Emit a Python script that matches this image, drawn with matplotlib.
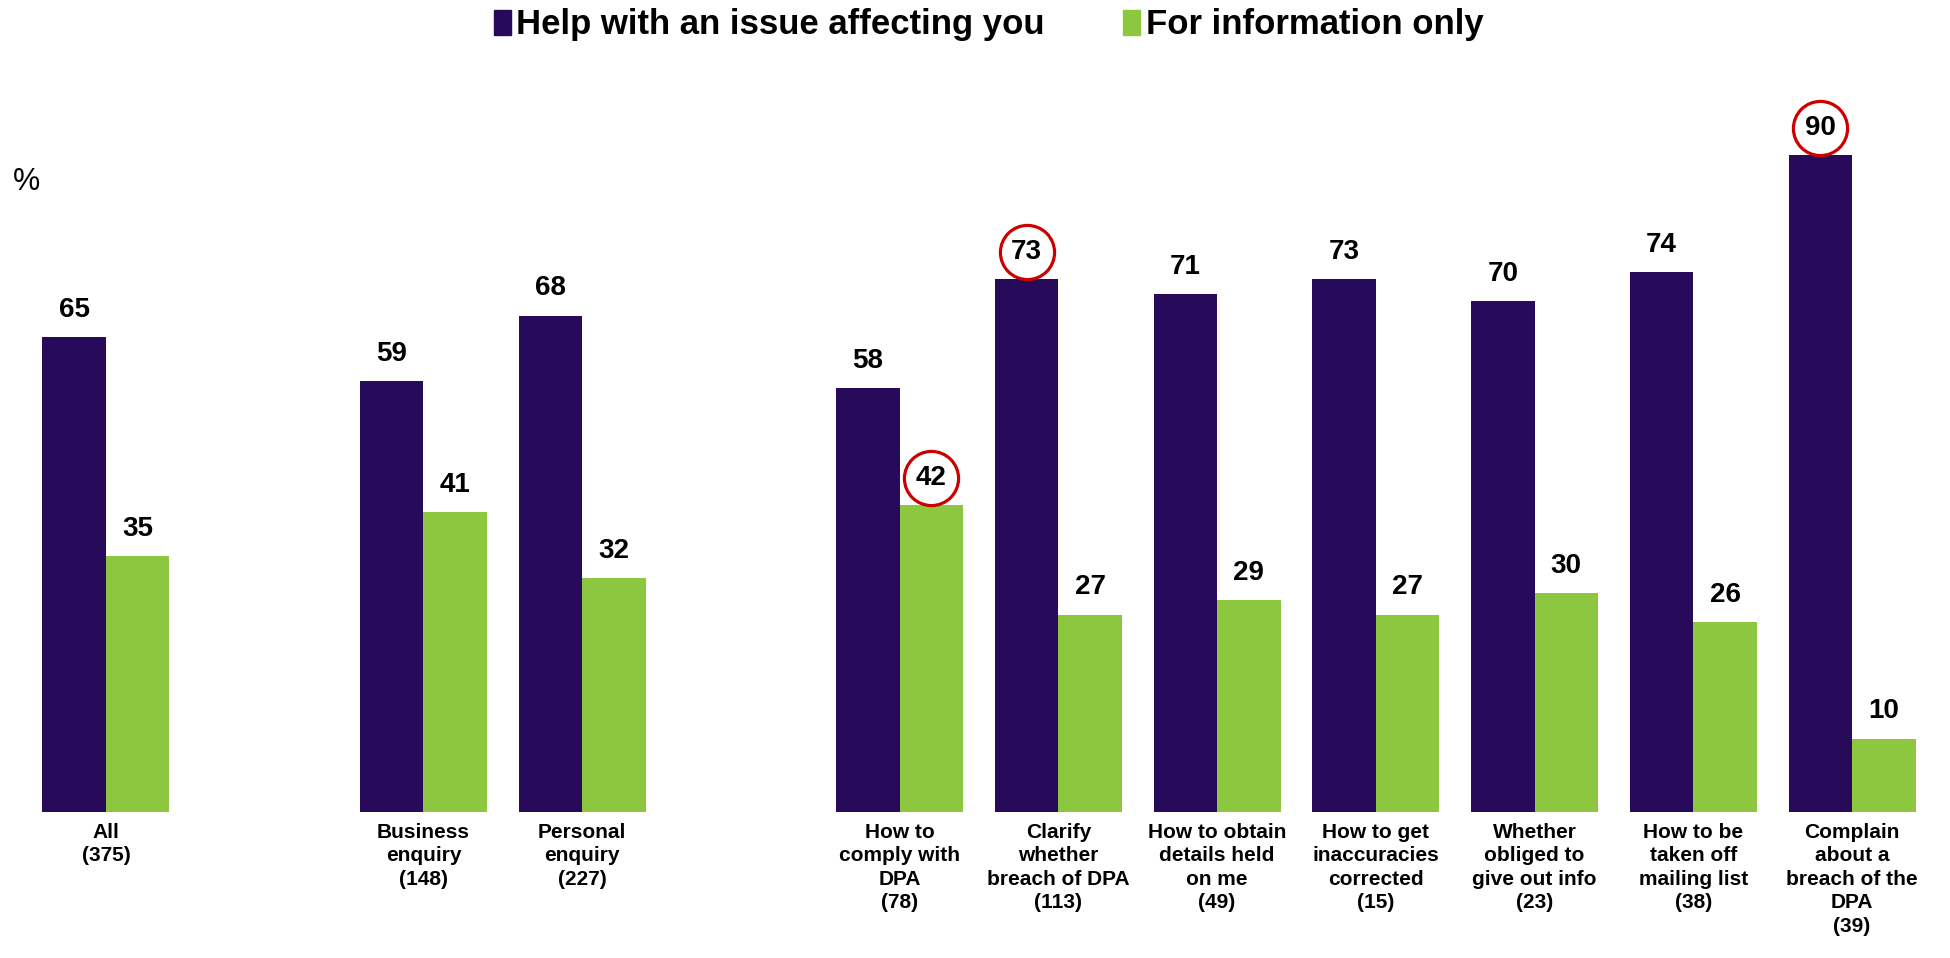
import matplotlib
matplotlib.use("Agg")
import matplotlib.pyplot as plt
from matplotlib.patches import Patch

# Enquiry reasons and share of each purpose (%)
categories = [
    "All\n(375)",
    "Business\nenquiry\n(148)",
    "Personal\nenquiry\n(227)",
    "How to\ncomply with\nDPA\n(78)",
    "Clarify\nwhether\nbreach of DPA\n(113)",
    "How to obtain\ndetails held\non me\n(49)",
    "How to get\ninaccuracies\ncorrected\n(15)",
    "Whether\nobliged to\ngive out info\n(23)",
    "How to be\ntaken off\nmailing list\n(38)",
    "Complain\nabout a\nbreach of the\nDPA\n(39)",
]
groups = [0, 1, 1, 2, 2, 2, 2, 2, 2, 2]
help_vals = [65, 59, 68, 58, 73, 71, 73, 70, 74, 90]
info_vals = [35, 41, 32, 42, 27, 29, 27, 30, 26, 10]
series_names = ["Help with an issue affecting you", "For information only"]

# labels that get a red ring
help_circled = [4, 9]
info_circled = [3]

PURPLE = "#280a5a"
GREEN = "#8dc63f"
RED = "#cc0000"

plt.rcParams["font.family"] = ["Liberation Sans", "DejaVu Sans"]

fig = plt.figure(figsize=(19.5, 9.58), dpi=100)
ax = fig.add_axes([0.01365, 0.1529, 0.9768, 0.7614])

# one empty slot between each group
pos = [i + g for i, g in enumerate(groups)]
w = 0.4

ax.bar([p - w / 2 for p in pos], help_vals, w, color=PURPLE)
ax.bar([p + w / 2 for p in pos], info_vals, w, color=GREEN)

LIFT = 19.5  # points between bar top and label centre
ring_shift = matplotlib.transforms.ScaledTranslation(0, LIFT / 72, fig.dpi_scale_trans)


def label(x, v, circled):
    ax.annotate(str(v), (x, v), xytext=(0, LIFT), textcoords="offset points",
                ha="center", va="center", fontsize=20, fontweight="bold")
    if circled:
        ax.plot([x], [v], marker="o", markersize=39, markerfacecolor="none",
                markeredgecolor=RED, markeredgewidth=2.3, clip_on=False,
                transform=ax.transData + ring_shift)


for i, p in enumerate(pos):
    label(p - w / 2, help_vals[i], i in help_circled)
    label(p + w / 2, info_vals[i], i in info_circled)

ax.set_xlim(-0.5, 11.5)
ax.set_ylim(0, 100)
ax.set_xticks(pos)
ax.set_xticklabels(categories, fontsize=15, fontweight="bold", linespacing=1.3, va="top")
ax.tick_params(axis="x", length=0, pad=8)
ax.set_yticks([])
for s in ax.spines.values():
    s.set_visible(False)

fig.text(0.0065, 0.81, "%", fontsize=22, va="center", ha="left")

handles = [Patch(color=PURPLE), Patch(color=GREEN)]
fig.legend(handles, series_names, loc="center", bbox_to_anchor=(0.507, 0.974),
           ncol=2, frameon=False, handlelength=0.5, handleheight=0.75,
           handletextpad=0.15, columnspacing=2.25,
           prop={"family": ["Liberation Sans Narrow", "Liberation Sans"],
                 "weight": "bold", "size": 25})

fig.savefig("out.png", dpi=100)
